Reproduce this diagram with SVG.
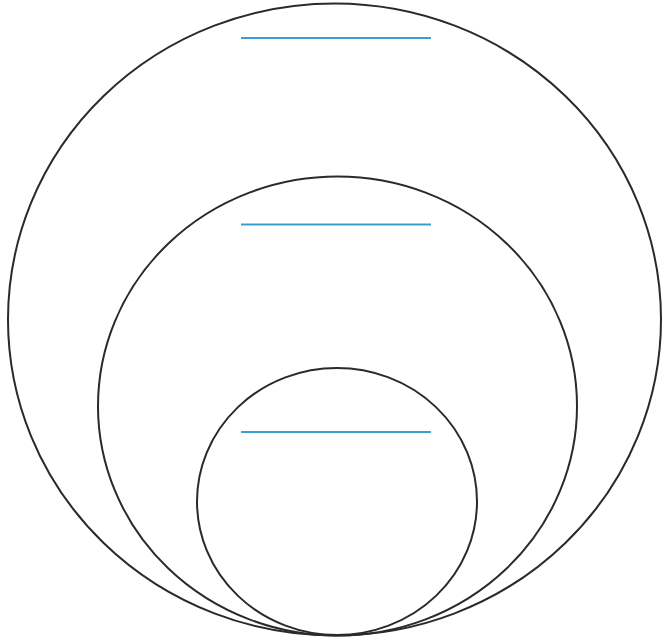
<svg xmlns="http://www.w3.org/2000/svg" width="664" height="644" viewBox="0 0 664 644">
<style>
.ring{fill:none;stroke:#2a2a2a;stroke-width:2}
.blank{stroke:#3a9fd0;stroke-width:2.2}
</style>
<rect width="664" height="644" fill="#ffffff"/>
<g id="outer"><ellipse class="ring" cx="334.5" cy="319.5" rx="326.5" ry="316"/><line class="blank" x1="241" y1="38" x2="431" y2="38"/></g>
<g id="middle"><ellipse class="ring" cx="337.5" cy="406" rx="239.5" ry="229.5"/><line class="blank" x1="241" y1="224.5" x2="431" y2="224.5"/></g>
<g id="inner"><ellipse class="ring" cx="337" cy="501.5" rx="140" ry="133.5"/><line class="blank" x1="241" y1="432" x2="431" y2="432"/></g>
<g id="connectors"></g>
</svg>
